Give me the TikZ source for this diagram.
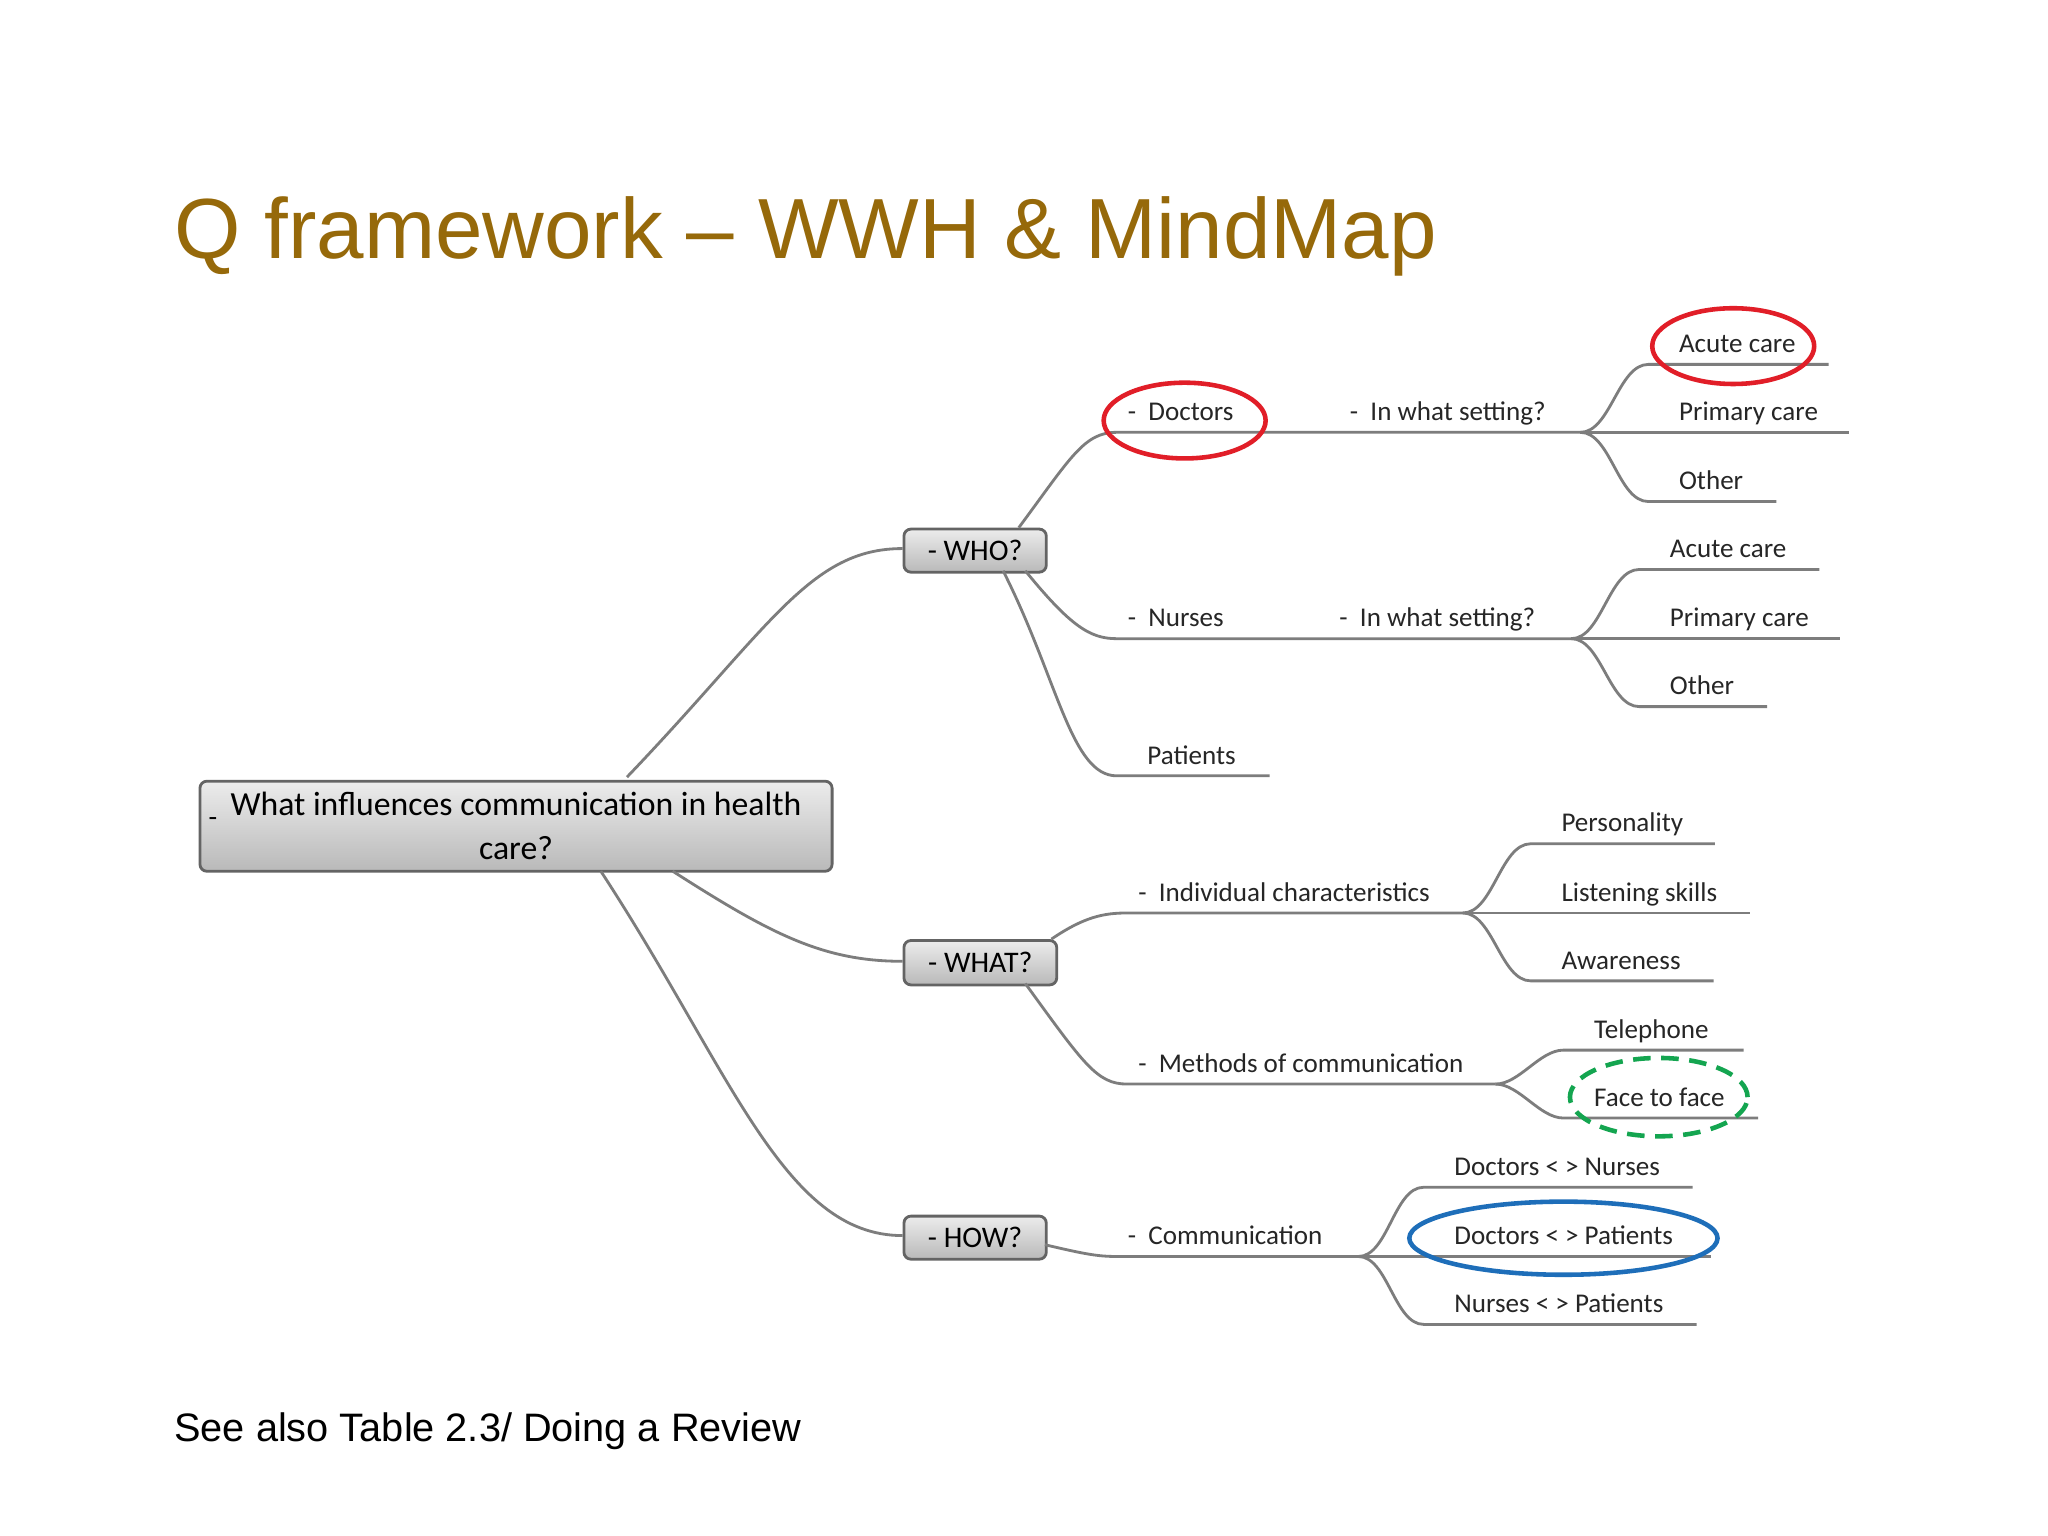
\documentclass[tikz,border=0pt]{standalone}
\usepackage{fontspec}
\setmainfont{Carlito}
\newfontfamily\arialf{Liberation Sans}
\usetikzlibrary{shapes.geometric}
\definecolor{titlecol}{RGB}{150,105,10}
\definecolor{linecol}{RGB}{125,125,125}
\definecolor{ringred}{RGB}{225,30,40}
\definecolor{ringgreen}{RGB}{20,165,80}
\definecolor{ringblue}{RGB}{30,110,185}
\tikzset{
  br/.style={draw=linecol, line width=0.8pt},
  lbl/.style={font=\fontsize{7.7}{9}\selectfont, text=black!85, inner sep=0pt, anchor=base west},
  boxn/.style={draw=linecol!80!black, line width=0.8pt, rounded corners=2pt, top color=gray!15, bottom color=gray!55, font=\fontsize{8.5}{10}\selectfont, inner sep=0pt, anchor=north west},
  ring/.style={ellipse, line width=1.3pt, inner sep=0pt},
}
\begin{document}
\begin{tikzpicture}[x=0.013061cm, y=-0.013061cm]
\useasboundingbox (0,0) rectangle (1568,1176);
\fill[white] (0,0) rectangle (1568,1176);
\node[font=\arialf\fontsize{24.3}{28}\selectfont, text=titlecol, anchor=base west, inner sep=0pt] (title) at (133,198) {Q framework – WWH \& MindMap};
\node[font=\arialf\fontsize{11.3}{14}\selectfont, anchor=base west, inner sep=0pt] (foot) at (133,1104) {See also Table 2.3/ Doing a Review};

% main boxes
\node[boxn, minimum width=484*0.013061cm, minimum height=69*0.013061cm, align=center, font=\fontsize{9.6}{12.5}\selectfont] (root) at (152,597) {What influences communication in health\\care?};
\node[font=\fontsize{8}{9}\selectfont, inner sep=0pt] (rootm) at (163,629) {-};
\node[boxn, minimum width=109*0.013061cm, minimum height=33*0.013061cm] (who) at (691,404) {- WHO?\hspace{26pt}};
\node[boxn, minimum width=117*0.013061cm, minimum height=34*0.013061cm] (what) at (691,719) {- WHAT?\hspace{26pt}};
\node[boxn, minimum width=109*0.013061cm, minimum height=33*0.013061cm] (how) at (691,930) {- HOW?\hspace{27pt}};

\coordinate (r1) at (480,595); \coordinate (r2) at (515,667); \coordinate (r3) at (460,667);
\coordinate (whoL) at (691,420); \coordinate (whatL) at (691,736); \coordinate (howL) at (691,946);
\draw[br] (r1) .. controls (590,480) and (620,420) .. (whoL);
\draw[br] (r2) .. controls (590,715) and (630,736) .. (whatL);
\draw[br] (r3) .. controls (560,820) and (600,946) .. (howL);

% level 2 coordinates
\coordinate (docS) at (855,331); \coordinate (docE) at (1023,331); \coordinate (docF) at (1210,331);
\coordinate (nurS) at (855,489); \coordinate (nurE) at (1017,489); \coordinate (nurF) at (1203,489);
\coordinate (patS) at (855,594); \coordinate (patE) at (972,594);
\coordinate (indS) at (863,699); \coordinate (indF) at (1120,699);
\coordinate (metS) at (863,830); \coordinate (metF) at (1145,830);
\coordinate (comS) at (855,962); \coordinate (comF) at (1040,962);

\draw[br] (780,404) .. controls (820,350) and (830,331) .. (docS) -- (docE) -- (docF);
\draw[br] (785,437) .. controls (820,480) and (835,489) .. (nurS) -- (nurE) -- (nurF);
\draw[br] (768,437) .. controls (810,520) and (820,594) .. (patS) -- (patE);
\draw[br] (805,719) .. controls (830,702) and (845,699) .. (indS) -- (indF);
\draw[br] (785,753) .. controls (830,815) and (840,830) .. (metS) -- (metF);
\draw[br] (800,953) .. controls (830,960) and (840,962) .. (comS) -- (comF);

\node[lbl] (ldoc) at (863,322) {- \ Doctors};
\node[lbl] (lset1) at (1033,322) {- \ In what setting?};
\node[lbl] (lnur) at (863,480) {- \ Nurses};
\node[lbl] (lset2) at (1025,480) {- \ In what setting?};
\node[lbl] (lpat) at (878,585) {Patients};
\node[lbl] (lind) at (871,690) {- \ Individual characteristics};
\node[lbl] (lmet) at (871,821) {- \ Methods of communication};
\node[lbl] (lcom) at (863,953) {- \ Communication};

\foreach \f/\y/\a/\b/\n/\t in {
 docF/279/1262/1400/a1/Acute care, docF/331/1262/1416/a2/Primary care, docF/384/1262/1360/a3/Other,
 nurF/436/1255/1393/b1/Acute care, nurF/489/1255/1409/b2/Primary care, nurF/541/1255/1353/b3/Other,
 indF/646/1172/1313/c1/Personality, indF/699/1172/1340/c2/Listening skills, indF/751/1172/1312/c3/Awareness,
 metF/804/1197/1335/d1/Telephone, metF/856/1197/1346/d2/Face to face,
 comF/909/1090/1296/e1/Doctors < > Nurses, comF/962/1090/1310/e2/Doctors < > Patients, comF/1014/1090/1299/e3/Nurses < > Patients}{
 \coordinate (\n S) at (\a,\y); \coordinate (\n E) at (\b,\y);
 \draw[br] (\f) to[out=0,in=180,looseness=0.8] (\n S) -- (\n E);
 \node[lbl] (\n L) at (\a+23,\y-9) {\t};
}

% highlight rings
\node[ring, draw=ringred, minimum width=124*0.013061cm, minimum height=58*0.013061cm] (ring1) at (907,322) {};
\node[ring, draw=ringred, minimum width=124*0.013061cm, minimum height=58*0.013061cm] (ring2) at (1327,265) {};
\node[ring, draw=ringgreen, dashed, dash pattern=on 5pt off 3pt, minimum width=136*0.013061cm, minimum height=60*0.013061cm] (ring3) at (1270,840) {};
\node[ring, draw=ringblue, minimum width=236*0.013061cm, minimum height=56*0.013061cm] (ring4) at (1197,948) {};
\end{tikzpicture}
\end{document}
